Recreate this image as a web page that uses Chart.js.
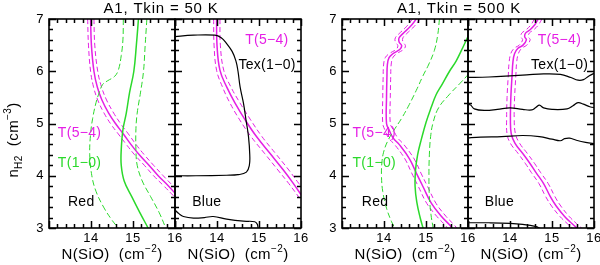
<!DOCTYPE html>
<html>
<head>
<meta charset="utf-8">
<script src="https://cdn.jsdelivr.net/npm/chart.js@4.4.1/dist/chart.umd.min.js"></script>
<style>
  html, body { margin: 0; padding: 0; background: #fff; }
  #wrap { position: relative; width: 600px; height: 265px; }
  #wrap canvas { position: absolute; left: 0; top: 0; }
</style>
</head>
<body>
<div id="wrap">
  <canvas id="red50" width="600" height="265"></canvas>
  <canvas id="blue50" width="600" height="265"></canvas>
  <canvas id="red500" width="600" height="265"></canvas>
  <canvas id="blue500" width="600" height="265"></canvas>
</div>
<script>
// eixos (log N(SiO) e log n_H2)
const xRange = [13, 16]
const yRange = [3, 7]
const xTickLabels = [14, 15, 16]
const yTickLabels = [3, 4, 5, 6, 7]

// ---- Tkin = 50 K, Red ----
const red50T54 = [[13.99,7.0],[14.01,6.5],[14.07,6.0],[14.15,5.7],[14.26,5.45],[14.42,5.2],[14.6,4.98],[14.77,4.8],[14.95,4.6],[15.15,4.4],[15.38,4.2],[15.6,4.0],[15.85,3.8],[16.05,3.62]]
const red50T54lo = [[13.92,7.0],[13.94,6.5],[13.99,6.0],[14.06,5.7],[14.16,5.45],[14.31,5.2],[14.48,4.98],[14.65,4.8],[14.84,4.6],[15.04,4.4],[15.27,4.2],[15.49,4.0],[15.74,3.8],[15.96,3.62],[16.05,3.55]]
const red50T54hi = [[14.07,7.0],[14.09,6.5],[14.16,6.0],[14.25,5.7],[14.37,5.45],[14.54,5.2],[14.72,4.98],[14.89,4.8],[15.07,4.6],[15.27,4.4],[15.49,4.2],[15.72,4.0],[15.96,3.8],[16.05,3.73]]
const red50T10 = [[15.13,7.0],[15.08,6.5],[15.02,6.0],[14.92,5.6],[14.84,5.2],[14.76,4.88],[14.72,4.5],[14.72,4.2],[14.79,3.9],[14.97,3.6],[15.16,3.3],[15.36,3.0]]
const red50T10hi = [[15.33,7.0],[15.29,6.5],[15.25,6.0],[15.18,5.6],[15.1,5.2],[15.07,4.9],[15.07,4.5],[15.1,4.2],[15.22,3.9],[15.42,3.6],[15.62,3.3],[15.78,3.0]]
const red50T10lo = [[14.77,7.0],[14.76,6.6],[14.72,6.3],[14.65,6.02],[14.56,5.9],[14.4,5.82],[14.28,5.75],[14.2,5.6],[14.12,5.4],[14.04,5.1],[13.99,4.8],[13.97,4.4],[14.02,4.0],[14.12,3.7],[14.3,3.4],[14.5,3.15],[14.65,3.0]]

// ---- Tkin = 50 K, Blue ----
const blue50T54 = [[13.99,7.0],[14.0,6.5],[14.07,6.02],[14.23,5.7],[14.43,5.39],[14.67,5.07],[14.94,4.75],[15.26,4.43],[15.58,4.11],[15.82,3.85],[16.05,3.58]]
const blue50T54lo = [[13.92,7.0],[13.93,6.5],[13.99,6.02],[14.13,5.7],[14.31,5.39],[14.54,5.07],[14.81,4.75],[15.13,4.43],[15.45,4.11],[15.71,3.85],[16.05,3.48]]
const blue50T54hi = [[14.07,7.0],[14.08,6.5],[14.16,6.02],[14.33,5.7],[14.55,5.39],[14.8,5.07],[15.07,4.75],[15.39,4.43],[15.71,4.11],[15.95,3.85],[16.05,3.75]]
const blue50Tex = [[12.95,6.66],[13.44,6.69],[13.95,6.69],[14.1,6.64],[14.23,6.53],[14.36,6.38],[14.45,6.2],[14.5,6.0],[14.55,5.7],[14.63,5.39],[14.69,5.07],[14.75,4.75],[14.78,4.4],[14.77,4.2],[14.7,4.07],[14.5,4.02],[14.23,4.01],[13.5,4.0],[12.95,4.0]]
const blue50TexLow = [[12.95,3.38],[13.1,3.27],[13.2,3.22],[13.44,3.19],[13.7,3.2],[13.91,3.22],[14.23,3.17],[14.63,3.13],[14.9,3.12],[14.96,3.07],[14.98,2.98]]

// ---- Tkin = 500 K, Red ----
const red500T54 = [[14.77,7.0],[14.62,6.85],[14.45,6.72],[14.36,6.64],[14.36,6.56],[14.42,6.49],[14.38,6.42],[14.22,6.34],[14.12,6.26],[14.08,6.12],[14.07,5.9],[14.06,5.5],[14.06,5.0],[14.12,4.88],[14.22,4.72],[14.36,4.6],[14.61,4.32],[14.77,4.05],[14.93,3.79],[15.13,3.47],[15.37,3.22],[15.56,3.06],[15.64,2.98]]
const red500T54lo = [[14.68,7.0],[14.53,6.85],[14.36,6.72],[14.27,6.64],[14.27,6.56],[14.33,6.49],[14.29,6.42],[14.13,6.34],[14.03,6.26],[13.99,6.12],[13.98,5.9],[13.97,5.5],[13.97,5.0],[14.02,4.88],[14.11,4.72],[14.25,4.6],[14.5,4.32],[14.66,4.05],[14.82,3.79],[15.02,3.47],[15.26,3.22],[15.45,3.06],[15.53,2.98]]
const red500T54hi = [[14.86,7.0],[14.71,6.85],[14.54,6.72],[14.45,6.64],[14.45,6.56],[14.51,6.49],[14.47,6.42],[14.31,6.34],[14.21,6.26],[14.17,6.12],[14.16,5.9],[14.15,5.5],[14.15,5.0],[14.22,4.88],[14.33,4.72],[14.47,4.6],[14.72,4.32],[14.88,4.05],[15.04,3.79],[15.24,3.47],[15.48,3.22],[15.67,3.06],[15.75,2.98]]
const red500T10 = [[16.02,6.7],[15.88,6.46],[15.72,6.2],[15.56,6.0],[15.37,5.73],[15.24,5.55],[15.12,5.3],[15.0,5.02],[14.89,4.7],[14.8,4.4],[14.75,4.1],[14.74,3.8],[14.78,3.5],[14.86,3.2],[14.93,3.0]]
const red500T10hi = [[16.02,5.95],[15.8,5.76],[15.55,5.55],[15.3,5.3],[15.17,5.02],[15.11,4.75],[15.08,4.4],[15.07,4.0],[15.08,3.6],[15.12,3.25],[15.17,3.0]]
const red500T10lo = [[15.32,7.0],[15.28,6.7],[15.2,6.4],[15.07,6.14],[14.92,5.9],[14.79,5.67],[14.6,5.36],[14.42,5.1],[14.22,4.85],[14.08,4.65],[13.99,4.45],[13.95,4.25],[13.94,4.0],[13.97,3.7],[14.06,3.38],[14.18,3.12],[14.26,3.0]]

// ---- Tkin = 500 K, Blue ----
const blue500T54 = [[14.67,7.0],[14.59,6.89],[14.47,6.79],[14.37,6.73],[14.35,6.66],[14.39,6.6],[14.31,6.5],[14.19,6.44],[14.11,6.34],[14.07,6.18],[14.05,5.93],[14.02,5.5],[14.01,5.1],[14.03,4.8],[14.12,4.62],[14.3,4.43],[14.48,4.23],[14.62,4.06],[14.8,3.85],[14.96,3.6],[15.1,3.42],[15.3,3.22],[15.48,3.08],[15.62,2.98]]
const blue500T54lo = [[14.58,7.0],[14.5,6.89],[14.38,6.79],[14.28,6.73],[14.26,6.66],[14.3,6.6],[14.22,6.5],[14.1,6.44],[14.02,6.34],[13.98,6.18],[13.96,5.93],[13.93,5.5],[13.92,5.1],[13.93,4.8],[14.01,4.62],[14.19,4.43],[14.37,4.23],[14.51,4.06],[14.69,3.85],[14.85,3.6],[14.99,3.42],[15.19,3.22],[15.37,3.08],[15.51,2.98]]
const blue500T54hi = [[14.76,7.0],[14.68,6.89],[14.56,6.79],[14.46,6.73],[14.44,6.66],[14.48,6.6],[14.4,6.5],[14.28,6.44],[14.2,6.34],[14.16,6.18],[14.14,5.93],[14.11,5.5],[14.1,5.1],[14.13,4.8],[14.23,4.62],[14.41,4.43],[14.59,4.23],[14.73,4.06],[14.91,3.85],[15.07,3.6],[15.21,3.42],[15.41,3.22],[15.59,3.08],[15.73,2.98]]
const blue500Tex1 = [[12.95,5.88],[13.5,5.89],[14.0,5.91],[14.4,5.93],[14.8,5.95],[15.2,5.94],[15.45,5.88],[15.62,5.83],[15.75,5.84],[15.88,5.91],[16.05,5.98]]
const blue500Tex2 = [[12.95,5.34],[13.05,5.36],[13.15,5.28],[13.4,5.25],[13.7,5.27],[14.0,5.3],[14.3,5.27],[14.52,5.26],[14.62,5.31],[14.7,5.35],[14.8,5.3],[15.0,5.27],[15.36,5.28],[15.5,5.34],[15.62,5.4],[15.75,5.37],[15.9,5.32],[16.05,5.3]]
const blue500Tex3 = [[12.95,4.72],[13.3,4.74],[13.8,4.75],[14.3,4.77],[14.7,4.75],[15.0,4.7],[15.2,4.67],[15.3,4.71],[15.42,4.72],[15.58,4.68],[15.8,4.64],[16.05,4.61]]
const blue500TexLow = [[12.95,3.1],[13.5,3.1],[14.0,3.09],[14.3,3.07],[14.6,3.03],[14.75,2.98]]

// cores do estilo PGPLOT
const MAGENTA = '#e51fe5'
const GREEN = '#2bd92b'
const BLACK = '#000'
const FONT = '"Liberation Sans", Arial, sans-serif'

function curve(pts, color, width, dash) {
  return {
    data: pts.map(p => ({ x: p[0], y: p[1] })),
    borderColor: color,
    borderWidth: width,
    borderDash: dash || [],
    showLine: true,
    pointRadius: 0,
    tension: 0.4,
    fill: false
  }
}

// desenha texto com sub/sobrescritos: partes [texto, tamanho, deslocamento]
function richText(ctx, parts, x, y, align) {
  let w = 0
  parts.forEach(p => { ctx.font = p[1] + 'px ' + FONT; w += ctx.measureText(p[0]).width })
  let cx = align === 'center' ? x - w / 2 : x
  ctx.textAlign = 'left'
  parts.forEach(p => {
    ctx.font = p[1] + 'px ' + FONT
    ctx.fillText(p[0], cx, y + p[2])
    cx += ctx.measureText(p[0]).width
  })
}

// moldura, ticks internos, rótulos e textos
const framePlugin = {
  id: 'frame',
  afterDatasetsDraw(chart, args, opts) {
    const ctx = chart.ctx
    const a = chart.chartArea
    const xs = chart.scales.x
    const ys = chart.scales.y
    ctx.save()
    ctx.strokeStyle = BLACK
    ctx.lineWidth = 1.5
    ctx.beginPath()
    for (let i = 0; i <= 15; i++) {
      const p = Math.round(xs.getPixelForValue(xRange[0] + i * 0.2)) + 0.5
      const L = i % 5 === 0 ? 7 : 4
      ctx.moveTo(p, a.bottom); ctx.lineTo(p, a.bottom - L)
      ctx.moveTo(p, a.top); ctx.lineTo(p, a.top + L)
    }
    for (let i = 0; i <= 20; i++) {
      const p = Math.round(ys.getPixelForValue(yRange[0] + i * 0.2)) + 0.5
      const L = i % 5 === 0 ? 7 : 4
      ctx.moveTo(a.left, p); ctx.lineTo(a.left + L, p)
      ctx.moveTo(a.right, p); ctx.lineTo(a.right - L, p)
    }
    ctx.stroke()
    ctx.lineWidth = 1.6
    ctx.strokeRect(a.left, a.top, a.right - a.left, a.bottom - a.top)

    ctx.fillStyle = BLACK
    ctx.textBaseline = 'middle'
    ctx.font = '13px ' + FONT
    ctx.letterSpacing = '0.5px'
    ctx.textAlign = 'center'
    xTickLabels.forEach(v => ctx.fillText(String(v), xs.getPixelForValue(v), 238))
    if (opts.yLabels) {
      ctx.textAlign = 'right'
      yTickLabels.forEach(v => ctx.fillText(String(v), a.left - 5, ys.getPixelForValue(v)))
    }

    // N(SiO) (cm^-2)
    ctx.textBaseline = 'alphabetic'
    ctx.letterSpacing = '0.4px'
    richText(ctx, [['N(SiO)  (cm', 15, 0], ['\u22122', 10, -7], [')', 15, 0]], (a.left + a.right) / 2, 259, 'center')

    if (opts.title) {
      ctx.font = '15px ' + FONT
      ctx.letterSpacing = '0.8px'
      ctx.textAlign = 'center'
      ctx.fillText(opts.title, opts.titleX, 13)
    }
    if (opts.yTitle) {
      ctx.save()
      ctx.letterSpacing = '0.4px'
      ctx.translate(18, 140)
      ctx.rotate(-Math.PI / 2)
      richText(ctx, [['n', 15, 0], ['H2', 10, 4], ['  (cm', 15, 0], ['\u22123', 10, -7], [')', 15, 0]], 0, 0, 'center')
      ctx.restore()
    }

    ctx.textBaseline = 'middle'
    ctx.textAlign = 'left'
    ctx.font = '14px ' + FONT
    ctx.letterSpacing = '0.3px'
    ;(opts.notes || []).forEach(n => {
      ctx.fillStyle = n[3]
      ctx.fillText(n[0], xs.getPixelForValue(n[1]), ys.getPixelForValue(n[2]))
    })
    ctx.restore()
  }
}

const panels = [
  {
    id: 'red50', left: 49, right: 175,
    datasets: [
      curve(red50T10, GREEN, 1.5), curve(red50T10lo, GREEN, 1, [6, 3]), curve(red50T10hi, GREEN, 1, [6, 3]),
      curve(red50T54, MAGENTA, 1.5), curve(red50T54lo, MAGENTA, 1, [5, 3]), curve(red50T54hi, MAGENTA, 1, [5, 3])
    ],
    frame: {
      yLabels: true, yTitle: true, title: 'A1, Tkin = 50 K', titleX: 161,
      notes: [['T(5\u22124)', 13.21, 4.82, MAGENTA], ['T(1\u22120)', 13.21, 4.24, GREEN], ['Red', 13.45, 3.5, BLACK]]
    }
  },
  {
    id: 'blue50', left: 175, right: 301,
    datasets: [
      curve(blue50Tex, BLACK, 1.2), curve(blue50TexLow, BLACK, 1.2),
      curve(blue50T54, MAGENTA, 1.5), curve(blue50T54lo, MAGENTA, 1, [5, 3]), curve(blue50T54hi, MAGENTA, 1, [5, 3])
    ],
    frame: {
      notes: [['T(5\u22124)', 14.67, 6.6, MAGENTA], ['Tex(1\u22120)', 14.51, 6.12, BLACK], ['Blue', 13.41, 3.5, BLACK]]
    }
  },
  {
    id: 'red500', left: 342, right: 468,
    datasets: [
      curve(red500T10, GREEN, 1.5), curve(red500T10lo, GREEN, 1, [6, 3]), curve(red500T10hi, GREEN, 1, [6, 3]),
      curve(red500T54, MAGENTA, 1.5), curve(red500T54lo, MAGENTA, 1, [5, 3]), curve(red500T54hi, MAGENTA, 1, [5, 3])
    ],
    frame: {
      yLabels: true, title: 'A1, Tkin = 500 K', titleX: 459,
      notes: [['T(5\u22124)', 13.25, 4.82, MAGENTA], ['T(1\u22120)', 13.25, 4.24, GREEN], ['Red', 13.47, 3.5, BLACK]]
    }
  },
  {
    id: 'blue500', left: 468, right: 594,
    datasets: [
      curve(blue500Tex1, BLACK, 1.2), curve(blue500Tex2, BLACK, 1.2), curve(blue500Tex3, BLACK, 1.2), curve(blue500TexLow, BLACK, 1.2),
      curve(blue500T54, MAGENTA, 1.5), curve(blue500T54lo, MAGENTA, 1, [5, 3]), curve(blue500T54hi, MAGENTA, 1, [5, 3])
    ],
    frame: {
      notes: [['T(5\u22124)', 14.66, 6.6, MAGENTA], ['Tex(1\u22120)', 14.5, 6.12, BLACK], ['Blue', 13.4, 3.5, BLACK]]
    }
  }
]

panels.forEach(p => {
  new Chart(document.getElementById(p.id), {
    type: 'scatter',
    data: { datasets: p.datasets },
    options: {
      responsive: false,
      animation: false,
      events: [],
      layout: { padding: { left: p.left, right: 600 - p.right, top: 19, bottom: 265 - 228 } },
      scales: {
        x: { type: 'linear', min: xRange[0], max: xRange[1], display: false },
        y: { type: 'linear', min: yRange[0], max: yRange[1], display: false }
      },
      plugins: {
        legend: { display: false },
        tooltip: { enabled: false },
        frame: p.frame
      }
    },
    plugins: [framePlugin]
  })
})
</script>
</body>
</html>
